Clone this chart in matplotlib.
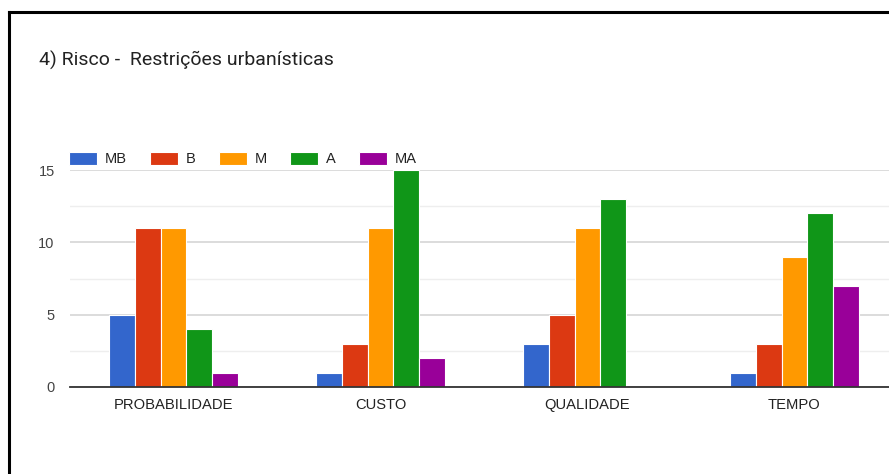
import matplotlib.pyplot as plt
import numpy as np
from matplotlib.lines import Line2D

plt.rcParams['font.family'] = ['Liberation Sans', 'DejaVu Sans']

# dados do grafico
categorias = ['PROBABILIDADE', 'CUSTO', 'QUALIDADE', 'TEMPO']
series = ['MB', 'B', 'M', 'A', 'MA']
mb = [5, 1, 3, 1]
b = [11, 3, 5, 3]
m = [11, 11, 11, 9]
a = [4, 15, 13, 12]
ma = [1, 2, 0, 7]
cores = ['#3366cc', '#dc3912', '#ff9900', '#109618', '#990099']

W, H = 889, 474
fig = plt.figure(figsize=(W / 100, H / 100), dpi=100)
fig.patch.set_facecolor('white')

# area do grafico (o lado direito fica cortado como na captura)
ax = fig.add_axes([70 / W, 1 - 387 / H, (898 - 70) / W, 217 / H])
ax.set_xlim(-0.5, len(categorias) - 0.5)
ax.set_ylim(0, 15)

x = np.arange(len(categorias))
larg = 0.124
for i, (nome, vals) in enumerate(zip(series, [mb, b, m, a, ma])):
    pos = x + (i - 2) * larg
    ax.bar(pos, vals, width=larg, color=cores[i], edgecolor='white',
           linewidth=0.8, label=nome, zorder=3)

ax.set_yticks([0, 5, 10, 15])
ax.set_yticks([2.5, 7.5, 12.5], minor=True)
ax.grid(axis='y', which='major', color='#d6d6d6', linewidth=1.2, zorder=0)
ax.grid(axis='y', which='minor', color='#eeeeee', linewidth=1.0, zorder=0)
ax.tick_params(axis='y', which='both', length=0, labelsize=10.5, colors='#444444', pad=11)
ax.set_xticks(x)
ax.set_xticklabels(categorias)
ax.tick_params(axis='x', length=0, labelsize=10.6, colors='#222222', pad=8)
for s in ['top', 'right', 'left']:
    ax.spines[s].set_visible(False)
ax.spines['bottom'].set_color('#333333')
ax.spines['bottom'].set_linewidth(1.3)
ax.spines['bottom'].set_zorder(4)

# legenda
leg = ax.legend(loc='lower left', bbox_to_anchor=(-0.006, 1.0), ncol=5, frameon=False,
                fontsize=10.5, handlelength=1.95, handleheight=1.05, handletextpad=0.5,
                columnspacing=1.6, borderaxespad=0.25, borderpad=0.0)
for t in leg.get_texts():
    t.set_color('#222222')

# titulo
fig.text(39 / W, 1 - 60 / H, '4) Risco -  Restrições urbanísticas', fontsize=14,
         family=['Roboto', 'DejaVu Sans'], color='#222222', va='center', ha='left')

# moldura preta
fig.add_artist(Line2D([9 / W, 9 / W], [0, 1 - 12 / H], color='black', linewidth=2.2))
fig.add_artist(Line2D([9 / W, 1], [1 - 12 / H, 1 - 12 / H], color='black', linewidth=2.2))

fig.savefig('out.png', dpi=100)
